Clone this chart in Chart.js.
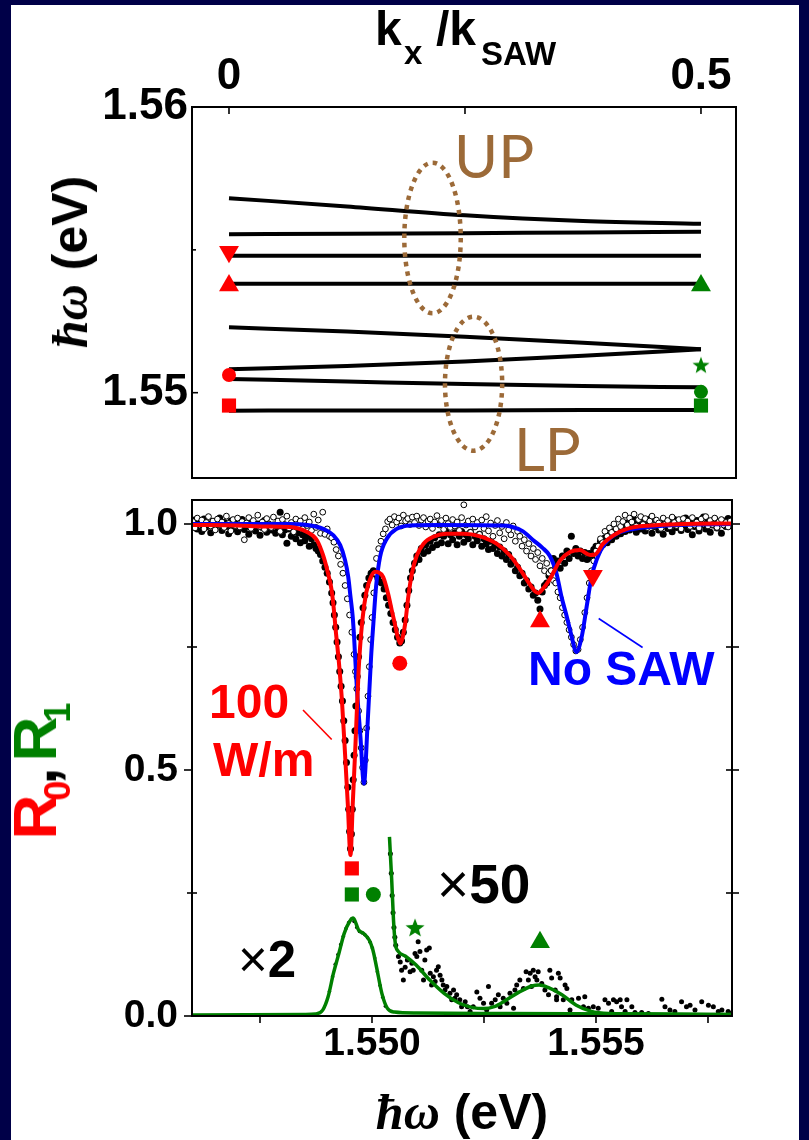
<!DOCTYPE html>
<html>
<head>
<meta charset="utf-8">
<script src="https://cdn.jsdelivr.net/npm/chart.js@4.4.1/dist/chart.umd.min.js"></script>
<style>
html,body{margin:0;padding:0;}
body{width:809px;height:1140px;background:#000048;position:relative;overflow:hidden;}
#sheet{position:absolute;left:11px;top:5px;width:788px;height:1135px;background:#fff;}
canvas{position:absolute;left:0;top:0;}
.t{position:absolute;line-height:1;white-space:nowrap;font-family:"Liberation Sans",Arial,sans-serif;font-weight:bold;color:#000;}
.rot{transform:translate(-50%,-50%) rotate(-90deg);}
.ctr{transform:translate(-50%,-50%);}
.hb{font-family:"Liberation Serif","DejaVu Serif",serif;font-style:italic;font-weight:bold;}
.thin{font-weight:normal;}
.sb{font-size:36px;position:relative;top:14px;}
.lat{font-family:Lato,"Open Sans",sans-serif;font-weight:normal;color:#9c6a38;}
</style>
</head>
<body>
<div id="sheet"></div>
<canvas id="spec" width="809" height="1140"></canvas>
<canvas id="disp" width="809" height="1140"></canvas>

<!-- axis titles -->
<div class="t" style="left:375px;top:5px;font-size:48px">k</div>
<div class="t" style="left:404px;top:36px;font-size:33px">x</div>
<div class="t" style="left:436px;top:5px;font-size:48px">/k</div>
<div class="t" style="left:481px;top:37px;font-size:33px">SAW</div>
<div class="t rot" style="left:70px;top:262px;font-size:50px"><span class="hb">ħω</span> (eV)</div>
<div class="t ctr" style="left:462px;top:1112px;font-size:50px"><span class="hb">ħω</span> (eV)</div>
<div class="t rot" style="left:35px;top:771px;font-size:62px"><span style="color:#ff0000">R<span class="sb" style="margin-left:-6px">0</span></span><span style="margin-left:-4px">,</span><span style="color:#008000;margin-left:6px">R<span class="sb" style="margin-left:-6px">1</span></span></div>

<!-- annotations -->
<div class="t lat" style="left:454px;top:125px;font-size:60px">UP</div>
<div class="t lat" style="left:514px;top:418px;font-size:60px">LP</div>
<div class="t" style="left:528px;top:645px;font-size:48px;color:#0000ff">No SAW</div>
<div class="t" style="left:209px;top:678px;font-size:48px;color:#ff0000">100</div>
<div class="t" style="left:213px;top:736px;font-size:48px;color:#ff0000">W/m</div>
<div class="t" style="left:238px;top:934px;font-size:51px"><span class="thin">×</span>2</div>
<div class="t" style="left:437px;top:857px;font-size:55px"><span class="thin">×</span>50</div>

<script>
// ---------- dispersion panel (top) ----------
const kxGrid = [0, 0.125, 0.25, 0.375, 0.5];
const kxTickValues = [0, 0.5];
const kxMinorTicks = [0.25];
const eTopTickValues = [1.55, 1.56];
const eTopMinorTicks = [1.555];

const band1 = [1.55681, 1.55652, 1.55621, 1.55601, 1.55591];
const band2 = [1.55555, 1.55556, 1.55558, 1.55561, 1.55563];
const band3 = [1.55479, 1.55479, 1.55479, 1.55479, 1.55479];
const band4 = [1.55381, 1.55381, 1.55381, 1.55381, 1.55381];
const band5 = [1.55229, 1.55214, 1.55196, 1.55175, 1.55152];
const band6 = [1.55082, 1.55093, 1.55109, 1.55129, 1.55152];
const band7 = [1.55048, 1.55039, 1.55030, 1.55023, 1.55019];
const band8 = [1.54937, 1.54938, 1.54938, 1.54939, 1.54939];

// mode energies shared by both panels
const modeE = {square: 1.54955, dotRed: 1.55062, dotGreen: 1.55003, star: 1.55096, up: 1.55375, down: 1.55493};

// polariton branch groups (kx centre, energy centre, half widths)
const rings = [
  {kx: 0.2156, e: 1.555415, dk: 0.0299, de: 0.002636},
  {kx: 0.2591, e: 1.550315, dk: 0.0303, de: 0.002345}
];

// ---------- reflectance panel (bottom) ----------
const eTickValues = [1.550, 1.555];
const eMinorTicks = [1.5475, 1.5525, 1.5575];
const rTickValues = [0, 0.5, 1.0];
const rMinorTicks = [0.25, 0.75];

const r0Marks = {square: 0.300, dot: 0.717, up: 0.802, down: 0.895};
const r1Marks = {square: 0.247, dot: 0.247, star: 0.179, up: 0.150};

// fit, 100 W/m
const fitSaw = [[1.54598,0.998],[1.5470,0.997],[1.5476,0.995],[1.54817,0.994],[1.54854,0.984],[1.54877,0.967],[1.54891,0.936],[1.54902,0.899],[1.54910,0.865],[1.54915,0.825],[1.54919,0.784],[1.54926,0.72],[1.54933,0.64],[1.54940,0.53],[1.54946,0.43],[1.54952,0.327],[1.54957,0.43],[1.54963,0.55],[1.54970,0.70],[1.54978,0.80],[1.54987,0.86],[1.54998,0.893],[1.55007,0.903],[1.55014,0.902],[1.55025,0.892],[1.55036,0.858],[1.55044,0.825],[1.55051,0.797],[1.55057,0.772],[1.55063,0.757],[1.55069,0.772],[1.55074,0.797],[1.55081,0.852],[1.55089,0.899],[1.55100,0.936],[1.55115,0.96],[1.55137,0.974],[1.55167,0.98],[1.55204,0.98],[1.55241,0.975],[1.55278,0.96],[1.55308,0.936],[1.55330,0.909],[1.55349,0.882],[1.55364,0.863],[1.55371,0.860],[1.55382,0.869],[1.55397,0.888],[1.55420,0.926],[1.55442,0.943],[1.55464,0.947],[1.55487,0.937],[1.55498,0.938],[1.55516,0.96],[1.55539,0.977],[1.55569,0.99],[1.55621,0.997],[1.55695,1.0],[1.55804,1.001]];

// fit, no SAW
const fitNoSaw = [[1.54598,1.0],[1.5475,1.0],[1.54817,1.0],[1.54854,0.998],[1.54891,0.99],[1.54914,0.977],[1.54929,0.957],[1.54940,0.926],[1.54947,0.892],[1.54952,0.852],[1.54957,0.811],[1.54960,0.770],[1.54966,0.67],[1.54974,0.57],[1.54982,0.4725],[1.54990,0.59],[1.54998,0.73],[1.55003,0.797],[1.55009,0.872],[1.55018,0.933],[1.55033,0.970],[1.55055,0.990],[1.55085,0.997],[1.5515,0.998],[1.5529,0.997],[1.55310,0.995],[1.55337,0.985],[1.55360,0.967],[1.55380,0.952],[1.55397,0.935],[1.55412,0.899],[1.55423,0.852],[1.55435,0.811],[1.55446,0.770],[1.55456,0.740],[1.55468,0.770],[1.55479,0.831],[1.55490,0.892],[1.55502,0.929],[1.55520,0.96],[1.55546,0.98],[1.55583,0.99],[1.55658,0.997],[1.55804,1.0]];

// first-order diffraction, x2 and x50 fits
const fitR1x2 = [[1.54598,0.002],[1.5485,0.003],[1.54874,0.004],[1.54890,0.012],[1.54902,0.039],[1.54914,0.087],[1.54926,0.127],[1.54938,0.168],[1.54950,0.192],[1.54958,0.199],[1.54970,0.175],[1.54982,0.167],[1.54994,0.154],[1.55002,0.134],[1.55010,0.100],[1.55022,0.046],[1.55034,0.016],[1.55050,0.008],[1.5510,0.006],[1.5530,0.005],[1.5560,0.004],[1.55804,0.003]];
const fitR1x50 = [[1.55039,0.364],[1.55044,0.276],[1.55048,0.195],[1.55052,0.148],[1.55059,0.131],[1.55074,0.122],[1.55098,0.104],[1.55129,0.073],[1.55161,0.046],[1.55193,0.027],[1.55225,0.017],[1.55249,0.015],[1.55273,0.019],[1.55297,0.031],[1.55329,0.049],[1.55357,0.061],[1.55373,0.063],[1.55393,0.058],[1.55424,0.043],[1.55456,0.022],[1.55488,0.010],[1.55528,0.005],[1.55608,0.004],[1.55804,0.003]];

// measured R0 without SAW (open circles)
const dataNoSaw = [[1.54600,1.005],[1.54605,0.992],[1.54610,1.012],[1.54615,0.998],[1.54620,1.008],[1.54625,0.990],[1.54630,1.003],[1.54635,1.015],[1.54640,0.996],[1.54645,1.006],[1.54650,0.988],[1.54655,1.010],[1.54660,0.999],[1.54665,1.004],[1.54670,0.993],[1.54675,1.016],[1.54680,1.001],[1.54685,0.986],[1.54690,1.009],[1.54695,0.997],[1.54700,1.012],[1.54705,0.994],[1.54710,1.005],[1.54715,0.968],[1.54720,1.002],[1.54725,1.013],[1.54730,0.991],[1.54735,1.007],[1.54740,0.998],[1.54745,1.018],[1.54750,0.995],[1.54755,1.004],[1.54760,0.989],[1.54765,1.011],[1.54770,1.000],[1.54775,0.993],[1.54780,1.014],[1.54785,0.997],[1.54790,1.006],[1.54795,0.985],[1.54800,1.009],[1.54805,0.999],[1.54810,1.016],[1.54815,0.992],[1.54820,1.003],[1.54825,0.984],[1.54830,1.010],[1.54835,0.995],[1.54840,1.006],[1.54845,0.990],[1.54850,1.013],[1.54855,0.997],[1.54860,1.004],[1.54865,0.987],[1.54870,1.020],[1.54875,0.993],[1.54880,1.008],[1.54885,0.981],[1.54890,1.024],[1.54895,0.979],[1.54900,0.990],[1.54905,0.975],[1.54910,0.972],[1.54915,0.963],[1.54920,0.948],[1.54925,0.935],[1.54930,0.918],[1.54935,0.900],[1.54940,0.875],[1.54945,0.848],[1.54950,0.815],[1.54955,0.780],[1.54960,0.735],[1.54963,0.700],[1.54966,0.665],[1.54970,0.620],[1.54973,0.580],[1.54976,0.545],[1.54979,0.505],[1.54982,0.475],[1.54985,0.520],[1.54988,0.585],[1.54991,0.650],[1.54994,0.710],[1.54997,0.765],[1.55000,0.810],[1.55004,0.860],[1.55007,0.900],[1.55010,0.930],[1.55015,0.950],[1.55020,0.965],[1.55025,0.980],[1.55030,0.990],[1.55035,1.005],[1.55040,1.010],[1.55045,0.998],[1.55050,1.015],[1.55055,1.004],[1.55060,1.012],[1.55065,0.996],[1.55070,1.018],[1.55075,1.006],[1.55080,1.011],[1.55085,0.999],[1.55090,1.014],[1.55095,1.003],[1.55100,1.016],[1.55105,0.997],[1.55110,1.008],[1.55115,1.013],[1.55120,0.994],[1.55125,1.006],[1.55130,1.010],[1.55135,0.991],[1.55140,1.004],[1.55145,1.017],[1.55150,0.998],[1.55155,1.007],[1.55160,0.989],[1.55165,1.012],[1.55170,1.001],[1.55175,0.993],[1.55180,1.009],[1.55185,0.996],[1.55190,1.004],[1.55195,0.987],[1.55200,1.013],[1.55205,1.039],[1.55210,0.998],[1.55215,1.006],[1.55220,0.983],[1.55225,1.010],[1.55230,0.994],[1.55235,1.003],[1.55240,0.979],[1.55245,1.008],[1.55250,0.991],[1.55255,1.015],[1.55260,0.986],[1.55265,1.002],[1.55270,0.975],[1.55275,0.997],[1.55280,1.007],[1.55285,0.982],[1.55290,0.995],[1.55295,0.970],[1.55300,1.003],[1.55305,0.988],[1.55310,0.978],[1.55315,0.996],[1.55320,0.965],[1.55325,0.985],[1.55330,0.975],[1.55335,0.955],[1.55340,0.968],[1.55345,0.945],[1.55350,0.960],[1.55355,0.935],[1.55360,0.950],[1.55365,0.928],[1.55370,0.942],[1.55375,0.915],[1.55380,0.930],[1.55385,0.905],[1.55390,0.920],[1.55395,0.900],[1.55400,0.905],[1.55405,0.885],[1.55410,0.880],[1.55415,0.862],[1.55420,0.850],[1.55425,0.830],[1.55430,0.815],[1.55435,0.800],[1.55440,0.785],[1.55445,0.770],[1.55450,0.755],[1.55455,0.742],[1.55460,0.745],[1.55465,0.765],[1.55470,0.790],[1.55475,0.820],[1.55480,0.850],[1.55485,0.880],[1.55490,0.905],[1.55495,0.925],[1.55500,0.945],[1.55505,0.955],[1.55510,0.970],[1.55515,0.962],[1.55520,0.985],[1.55525,0.975],[1.55530,0.992],[1.55535,0.983],[1.55540,1.000],[1.55545,0.990],[1.55550,1.010],[1.55555,0.995],[1.55560,1.005],[1.55565,1.018],[1.55570,0.998],[1.55575,1.012],[1.55580,1.004],[1.55585,1.020],[1.55590,0.996],[1.55595,1.009],[1.55600,1.015],[1.55605,0.999],[1.55610,1.011],[1.55615,0.993],[1.55620,1.006],[1.55625,1.016],[1.55630,0.997],[1.55635,1.008],[1.55640,1.002],[1.55645,0.991],[1.55650,1.012],[1.55655,1.000],[1.55660,1.007],[1.55665,0.994],[1.55670,1.014],[1.55675,1.003],[1.55680,0.997],[1.55685,1.009],[1.55690,0.990],[1.55695,1.011],[1.55700,1.001],[1.55705,1.006],[1.55710,0.995],[1.55715,1.013],[1.55720,0.998],[1.55725,1.004],[1.55730,0.992],[1.55735,1.010],[1.55740,1.000],[1.55745,1.015],[1.55750,0.996],[1.55755,1.007],[1.55760,0.999],[1.55765,1.012],[1.55770,0.993],[1.55775,1.005],[1.55780,1.009],[1.55785,0.998],[1.55790,1.003],[1.55795,0.994],[1.55800,1.006]];

// measured R0 with SAW (filled dots)
const dataSaw = [[1.54600,0.998],[1.54605,1.008],[1.54610,0.990],[1.54615,1.002],[1.54620,0.985],[1.54625,1.010],[1.54630,0.994],[1.54635,1.000],[1.54640,0.982],[1.54645,1.005],[1.54650,0.992],[1.54655,0.999],[1.54660,1.012],[1.54665,0.987],[1.54670,1.003],[1.54675,0.995],[1.54680,0.980],[1.54685,1.006],[1.54690,0.991],[1.54695,1.001],[1.54700,0.984],[1.54705,0.998],[1.54710,1.009],[1.54715,0.989],[1.54720,0.996],[1.54725,0.979],[1.54730,1.004],[1.54735,0.990],[1.54740,0.986],[1.54745,1.000],[1.54750,0.977],[1.54755,0.993],[1.54760,1.007],[1.54765,0.983],[1.54770,0.995],[1.54775,0.988],[1.54780,0.998],[1.54785,0.981],[1.54790,0.993],[1.54795,1.024],[1.54800,0.978],[1.54805,0.988],[1.54810,0.961],[1.54815,0.990],[1.54820,0.975],[1.54825,0.985],[1.54830,0.970],[1.54835,0.982],[1.54840,0.962],[1.54845,0.978],[1.54850,0.966],[1.54855,0.975],[1.54860,0.955],[1.54865,0.970],[1.54870,0.958],[1.54875,0.950],[1.54880,0.945],[1.54885,0.938],[1.54890,0.925],[1.54895,0.912],[1.54900,0.900],[1.54905,0.882],[1.54910,0.860],[1.54913,0.840],[1.54916,0.815],[1.54919,0.790],[1.54922,0.760],[1.54925,0.730],[1.54928,0.700],[1.54931,0.670],[1.54934,0.640],[1.54937,0.600],[1.54940,0.560],[1.54943,0.515],[1.54946,0.465],[1.54948,0.420],[1.54950,0.375],[1.54952,0.340],[1.54954,0.370],[1.54956,0.420],[1.54958,0.480],[1.54960,0.530],[1.54962,0.580],[1.54964,0.630],[1.54967,0.690],[1.54970,0.730],[1.54973,0.770],[1.54976,0.800],[1.54980,0.830],[1.54984,0.855],[1.54988,0.875],[1.54993,0.890],[1.54998,0.900],[1.55003,0.905],[1.55008,0.898],[1.55013,0.890],[1.55018,0.882],[1.55022,0.880],[1.55027,0.868],[1.55032,0.850],[1.55037,0.835],[1.55042,0.818],[1.55047,0.800],[1.55052,0.785],[1.55057,0.770],[1.55062,0.758],[1.55066,0.762],[1.55070,0.780],[1.55074,0.805],[1.55078,0.835],[1.55082,0.865],[1.55086,0.890],[1.55090,0.905],[1.55095,0.920],[1.55100,0.935],[1.55105,0.928],[1.55110,0.950],[1.55115,0.940],[1.55120,0.958],[1.55125,0.945],[1.55130,0.965],[1.55135,0.952],[1.55140,0.972],[1.55145,0.958],[1.55150,0.978],[1.55155,0.962],[1.55160,0.975],[1.55165,0.985],[1.55170,0.960],[1.55175,0.978],[1.55180,0.968],[1.55185,0.982],[1.55190,0.958],[1.55195,0.975],[1.55200,0.985],[1.55205,0.963],[1.55210,0.978],[1.55215,0.970],[1.55220,0.983],[1.55225,0.958],[1.55230,0.975],[1.55235,0.966],[1.55240,0.979],[1.55245,0.955],[1.55250,0.970],[1.55255,0.960],[1.55260,0.948],[1.55265,0.965],[1.55270,0.950],[1.55275,0.958],[1.55280,0.940],[1.55285,0.953],[1.55290,0.935],[1.55295,0.945],[1.55300,0.928],[1.55305,0.938],[1.55310,0.918],[1.55315,0.925],[1.55320,0.905],[1.55325,0.912],[1.55330,0.895],[1.55335,0.900],[1.55340,0.880],[1.55345,0.885],[1.55350,0.868],[1.55355,0.872],[1.55360,0.855],[1.55365,0.860],[1.55370,0.845],[1.55375,0.827],[1.55380,0.862],[1.55385,0.875],[1.55390,0.880],[1.55395,0.895],[1.55400,0.905],[1.55405,0.930],[1.55410,0.915],[1.55415,0.925],[1.55420,0.910],[1.55425,0.935],[1.55430,0.920],[1.55435,0.945],[1.55440,0.930],[1.55445,0.975],[1.55450,0.940],[1.55455,0.950],[1.55460,0.935],[1.55465,0.945],[1.55470,0.930],[1.55475,0.942],[1.55480,0.928],[1.55485,0.940],[1.55490,0.932],[1.55495,0.948],[1.55500,0.955],[1.55505,0.945],[1.55510,0.965],[1.55515,0.958],[1.55520,0.972],[1.55525,0.962],[1.55530,0.978],[1.55535,0.968],[1.55540,0.985],[1.55545,0.975],[1.55550,0.990],[1.55555,0.980],[1.55560,0.995],[1.55565,0.985],[1.55570,1.002],[1.55575,0.988],[1.55580,0.996],[1.55585,1.008],[1.55590,0.983],[1.55595,0.999],[1.55600,0.990],[1.55605,1.004],[1.55610,0.986],[1.55615,0.997],[1.55620,1.010],[1.55625,0.981],[1.55630,0.995],[1.55635,1.003],[1.55640,0.988],[1.55645,0.998],[1.55650,0.979],[1.55655,1.006],[1.55660,0.991],[1.55665,0.999],[1.55670,0.984],[1.55675,1.009],[1.55680,0.993],[1.55685,1.001],[1.55690,0.987],[1.55695,0.996],[1.55700,1.012],[1.55705,0.989],[1.55710,1.003],[1.55715,0.978],[1.55720,0.995],[1.55725,1.007],[1.55730,0.986],[1.55735,0.999],[1.55740,1.014],[1.55745,0.990],[1.55750,1.004],[1.55755,0.983],[1.55760,0.998],[1.55765,1.010],[1.55770,0.992],[1.55775,1.003],[1.55780,0.981],[1.55785,1.006],[1.55790,0.995],[1.55795,1.011],[1.55800,0.997]];

// measured R1 (x2 around the LP line, x50 above it)
const dataR1x2 = [[1.54905,0.05],[1.54912,0.08],[1.54918,0.105],[1.54924,0.125],[1.54930,0.145],[1.54936,0.162],[1.54942,0.178],[1.54948,0.19],[1.54954,0.197],[1.54960,0.192],[1.54966,0.18],[1.54972,0.172],[1.54978,0.169],[1.54984,0.165],[1.54990,0.159],[1.54996,0.150],[1.55001,0.138],[1.55006,0.118],[1.55012,0.09],[1.55018,0.062],[1.55024,0.038],[1.55030,0.02]];
const dataR1x50 = [[1.55041,0.33],[1.55043,0.29],[1.55045,0.245],[1.55047,0.21],[1.55049,0.18],[1.55051,0.16],[1.55053,0.144],[1.55059,0.121],[1.55063,0.110],[1.55066,0.093],[1.55070,0.073],[1.55074,0.099],[1.55079,0.114],[1.55085,0.090],[1.55089,0.107],[1.55092,0.093],[1.55096,0.127],[1.55100,0.121],[1.55103,0.151],[1.55107,0.131],[1.55111,0.093],[1.55115,0.073],[1.55118,0.114],[1.55122,0.134],[1.55128,0.138],[1.55130,0.087],[1.55133,0.063],[1.55137,0.080],[1.55141,0.070],[1.55144,0.093],[1.55148,0.100],[1.55152,0.083],[1.55156,0.073],[1.55159,0.063],[1.55163,0.053],[1.55167,0.060],[1.55174,0.046],[1.55178,0.033],[1.55182,0.053],[1.55185,0.036],[1.55189,0.043],[1.55196,0.033],[1.55200,0.019],[1.55208,0.029],[1.55213,0.019],[1.55219,0.009],[1.55226,0.019],[1.55234,0.049],[1.55241,0.036],[1.55249,0.026],[1.55256,0.012],[1.55260,0.060],[1.55267,0.026],[1.55275,0.033],[1.55282,0.043],[1.55286,0.019],[1.55293,0.036],[1.55301,0.026],[1.55308,0.046],[1.55316,0.016],[1.55319,0.053],[1.55323,0.063],[1.55330,0.073],[1.55338,0.056],[1.55344,0.090],[1.55349,0.073],[1.55353,0.087],[1.55356,0.060],[1.55360,0.093],[1.55364,0.080],[1.55368,0.073],[1.55371,0.090],[1.55379,0.066],[1.55386,0.053],[1.55394,0.043],[1.55397,0.093],[1.55401,0.077],[1.55409,0.053],[1.55412,0.039],[1.55416,0.087],[1.55420,0.077],[1.55431,0.063],[1.55435,0.056],[1.55412,0.033],[1.55427,0.033],[1.55446,0.033],[1.55461,0.036],[1.55475,0.039],[1.55442,0.012],[1.55472,0.019],[1.55483,0.016],[1.55494,0.019],[1.55505,0.016],[1.55520,0.033],[1.55528,0.026],[1.55539,0.033],[1.55546,0.029],[1.55554,0.033],[1.55569,0.033],[1.55557,0.019],[1.55580,0.019],[1.55535,0.009],[1.55565,0.009],[1.55587,0.007],[1.55602,0.007],[1.55617,0.005],[1.55647,0.034],[1.55654,0.019],[1.55665,0.012],[1.55676,0.009],[1.55691,0.029],[1.55702,0.019],[1.55710,0.022],[1.55721,0.012],[1.55736,0.029],[1.55751,0.022],[1.55762,0.019],[1.55773,0.009],[1.55781,0.012],[1.55795,0.009],[1.55799,0.005]];

// leader lines from the labels to their curves
const leaders = [
  {from: [1.54846, 0.622], to: [1.54910, 0.562], color: '#ff0000'},
  {from: [1.55506, 0.808], to: [1.55604, 0.749], color: '#0000ff'}
];

const RED = '#ff0000', GREEN = '#008000', BLUE = '#0000ff', BROWN = '#9c6a38';
const FONT = '"Liberation Sans", Arial, sans-serif';

const toXY = arr => arr.map(([x, y]) => ({x, y}));
const zipXY = (xs, ys) => xs.map((x, i) => ({x, y: ys[i]}));

function starImage(size, color) {
  const c = document.createElement('canvas');
  c.width = c.height = size;
  const g = c.getContext('2d');
  const r = size / 2, ri = r * 0.42;
  g.beginPath();
  for (let i = 0; i < 10; i++) {
    const a = -Math.PI / 2 + i * Math.PI / 5;
    const rr = i % 2 ? ri : r;
    g.lineTo(r + rr * Math.cos(a), r * 1.05 + rr * Math.sin(a));
  }
  g.closePath();
  g.fillStyle = color;
  g.fill();
  return c;
}
const starTop = starImage(18, GREEN);
const starBottom = starImage(20, GREEN);

function marker(x, y, style, color, radius, rotation) {
  return {type: 'scatter', data: [{x, y}], pointStyle: style, pointRadius: radius,
    pointBackgroundColor: color, pointBorderColor: color, pointBorderWidth: 0,
    pointRotation: rotation || 0, order: 0, clip: false};
}

// box outline and tick marks drawn through the scales
function framePlugin(marks) {
  return {
    id: 'frameTicks',
    afterDatasetsDraw(chart) {
      const {ctx, chartArea: a, scales} = chart;
      ctx.save();
      ctx.strokeStyle = '#000';
      ctx.lineWidth = 2;
      ctx.strokeRect(a.left, a.top, a.right - a.left, a.bottom - a.top);
      ctx.lineWidth = 1.6;
      for (const m of marks) {
        const s = scales[m.axis];
        for (const v of m.values) {
          const p = s.getPixelForValue(v);
          ctx.beginPath();
          if (m.side === 'top') { ctx.moveTo(p, a.top - m.out); ctx.lineTo(p, a.top + m.inn); }
          if (m.side === 'bottom') { ctx.moveTo(p, a.bottom + m.out); ctx.lineTo(p, a.bottom - m.inn); }
          if (m.side === 'left') { ctx.moveTo(a.left - m.out, p); ctx.lineTo(a.left + m.inn, p); }
          if (m.side === 'right') { ctx.moveTo(a.right + m.out, p); ctx.lineTo(a.right - m.inn, p); }
          ctx.stroke();
        }
      }
      ctx.restore();
    }
  };
}

const ringPlugin = {
  id: 'rings',
  afterDatasetsDraw(chart) {
    const {ctx, scales: {x, y}} = chart;
    ctx.save();
    ctx.strokeStyle = BROWN;
    ctx.lineWidth = 4.5;
    ctx.setLineDash([4.5, 5]);
    for (const r of rings) {
      const cx = x.getPixelForValue(r.kx), cy = y.getPixelForValue(r.e);
      const rx = Math.abs(x.getPixelForValue(r.kx + r.dk) - cx);
      const ry = Math.abs(y.getPixelForValue(r.e + r.de) - cy);
      ctx.beginPath();
      ctx.ellipse(cx, cy, rx, ry, 0, 0, Math.PI * 2);
      ctx.stroke();
    }
    ctx.restore();
  }
};

const leaderPlugin = {
  id: 'leaders',
  afterDatasetsDraw(chart) {
    const {ctx, scales: {x, y}} = chart;
    ctx.save();
    ctx.lineWidth = 1.6;
    for (const l of leaders) {
      ctx.strokeStyle = l.color;
      ctx.beginPath();
      ctx.moveTo(x.getPixelForValue(l.from[0]), y.getPixelForValue(l.from[1]));
      ctx.lineTo(x.getPixelForValue(l.to[0]), y.getPixelForValue(l.to[1]));
      ctx.stroke();
    }
    ctx.restore();
  }
};

const noGrid = {display: false, drawTicks: false};

// ---------- top chart ----------
const bandStyle = {type: 'line', showLine: true, borderColor: '#000', borderWidth: 4,
  pointRadius: 0, cubicInterpolationMode: 'monotone', order: 2, borderCapStyle: 'butt'};

new Chart(document.getElementById('disp'), {
  type: 'scatter',
  data: {
    datasets: [
      ...[band1, band2, band3, band4, band5, band6, band7, band8].map(b => ({...bandStyle, data: zipXY(kxGrid, b)})),
      marker(0, modeE.down, 'triangle', RED, 11.5, 180),
      marker(0, modeE.up, 'triangle', RED, 11.5),
      marker(0, modeE.dotRed, 'circle', RED, 7),
      marker(0, modeE.square, 'rect', RED, 10),
      marker(0.5, modeE.up, 'triangle', GREEN, 11.5),
      marker(0.5, modeE.star, starTop, GREEN, 9),
      marker(0.5, modeE.dotGreen, 'circle', GREEN, 7),
      marker(0.5, modeE.square, 'rect', GREEN, 10)
    ]
  },
  options: {
    responsive: false, animation: false, events: [],
    layout: {padding: {left: 0, top: 0, right: 73, bottom: 662}},
    plugins: {legend: {display: false}, tooltip: {enabled: false}},
    scales: {
      x: {
        type: 'linear', position: 'top', min: -0.03919, max: 0.5371,
        grid: noGrid, border: {display: false},
        afterFit: s => { s.height = 107; },
        afterBuildTicks: s => { s.ticks = kxTickValues.map(v => ({value: v})); },
        ticks: {autoSkip: false, maxRotation: 0, padding: 4, color: '#000',
          font: {family: FONT, size: 44, weight: 'bold'},
          callback: v => (v === 0 ? '0' : String(v))}
      },
      y: {
        type: 'linear', position: 'left', min: 1.547014, max: 1.56,
        grid: noGrid, border: {display: false},
        afterFit: s => { s.width = 192; },
        afterBuildTicks: s => { s.ticks = eTopTickValues.map(v => ({value: v})); },
        ticks: {autoSkip: false, padding: 4, color: '#000',
          font: {family: FONT, size: 44, weight: 'bold'},
          callback: v => Number(v).toFixed(2)}
      }
    }
  },
  plugins: [
    framePlugin([
      {axis: 'x', side: 'top', values: [...kxTickValues, ...kxMinorTicks], inn: 7, out: 0},
      {axis: 'y', side: 'left', values: eTopTickValues, inn: 6, out: 0},
      {axis: 'y', side: 'left', values: eTopMinorTicks, inn: 4, out: 0}
    ]),
    ringPlugin
  ]
});

// ---------- bottom chart ----------
const lineStyle = {type: 'line', showLine: true, pointRadius: 0, cubicInterpolationMode: 'monotone', borderJoinStyle: 'round'};

new Chart(document.getElementById('spec'), {
  type: 'scatter',
  data: {
    datasets: [
      marker(modeE.square, r0Marks.square, 'rect', RED, 10),
      marker(modeE.dotRed, r0Marks.dot, 'circle', RED, 7.5),
      marker(modeE.up, r0Marks.up, 'triangle', RED, 11.5),
      marker(modeE.down, r0Marks.down, 'triangle', RED, 11.5, 180),
      marker(modeE.square, r1Marks.square, 'rect', GREEN, 10),
      marker(modeE.dotGreen, r1Marks.dot, 'circle', GREEN, 7.5),
      marker(modeE.star, r1Marks.star, starBottom, GREEN, 10),
      marker(modeE.up, r1Marks.up, 'triangle', GREEN, 11.5),
      {...lineStyle, data: toXY(fitSaw), borderColor: RED, borderWidth: 4, order: 1},
      {...lineStyle, data: toXY(fitNoSaw), borderColor: BLUE, borderWidth: 4, order: 2},
      {...lineStyle, data: toXY(fitR1x2), borderColor: GREEN, borderWidth: 3.5, order: 3},
      {...lineStyle, data: toXY(fitR1x50), borderColor: GREEN, borderWidth: 3.5, order: 3},
      {type: 'scatter', data: toXY(dataR1x50), pointRadius: 2.5, pointBackgroundColor: '#000', pointBorderWidth: 0, order: 4},
      {type: 'scatter', data: toXY(dataNoSaw), pointRadius: 2.9, pointBackgroundColor: '#fff', pointBorderColor: '#000', pointBorderWidth: 1, order: 5},
      {type: 'scatter', data: toXY(dataSaw), pointRadius: 3.5, pointBackgroundColor: '#000', pointBorderWidth: 0, order: 6},
      {type: 'scatter', data: toXY(dataR1x2), pointRadius: 1.8, pointBackgroundColor: '#000', pointBorderWidth: 0, order: 7}
    ]
  },
  options: {
    responsive: false, animation: false, events: [],
    layout: {padding: {left: 0, top: 500, right: 77, bottom: 0}},
    plugins: {legend: {display: false}, tooltip: {enabled: false}},
    scales: {
      x: {
        type: 'linear', position: 'bottom', min: 1.545982, max: 1.558036,
        grid: noGrid, border: {display: false},
        afterFit: s => { s.height = 124; },
        afterBuildTicks: s => { s.ticks = eTickValues.map(v => ({value: v})); },
        ticks: {autoSkip: false, maxRotation: 0, padding: 5, color: '#000',
          font: {family: FONT, size: 39, weight: 'bold'},
          callback: v => Number(v).toFixed(3)}
      },
      y: {
        type: 'linear', position: 'left', min: 0, max: 1.04878,
        grid: noGrid, border: {display: false},
        afterFit: s => { s.width = 192; },
        afterBuildTicks: s => { s.ticks = rTickValues.map(v => ({value: v})); },
        ticks: {autoSkip: false, padding: 14, color: '#000',
          font: {family: FONT, size: 39, weight: 'bold'},
          callback: v => Number(v).toFixed(1)}
      }
    }
  },
  plugins: [
    framePlugin([
      {axis: 'x', side: 'bottom', values: [...eTickValues, ...eMinorTicks], inn: 0, out: 7},
      {axis: 'y', side: 'left', values: rTickValues, inn: 0, out: 8},
      {axis: 'y', side: 'left', values: rMinorTicks, inn: 5, out: 5},
      {axis: 'y', side: 'right', values: [0.25, 0.5, 0.75], inn: 6, out: 7},
      {axis: 'y', side: 'right', values: [1.0], inn: 0, out: 8}
    ]),
    leaderPlugin
  ]
});
</script>
</body>
</html>
